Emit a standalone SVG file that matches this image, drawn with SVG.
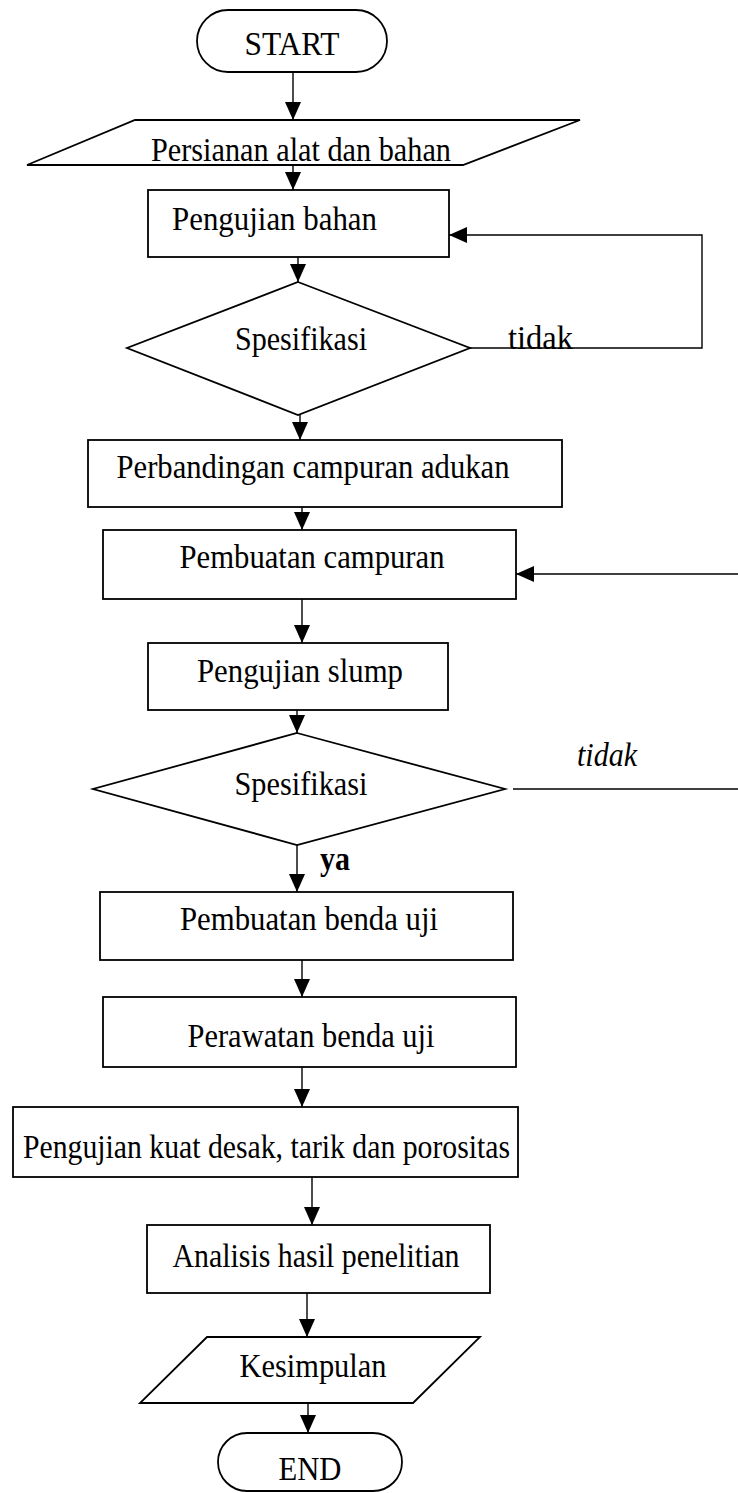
<svg xmlns="http://www.w3.org/2000/svg" width="738" height="1493" viewBox="0 0 738 1493">
<style>
.s{fill:#fff;stroke:#000;stroke-width:1.8}
.c{fill:none;stroke:#000;stroke-width:1.4}
.t{font-family:"Liberation Serif","Times New Roman",serif;font-size:33px;fill:#000}
.m{text-anchor:middle}
</style>
<defs>
<marker id="ah" markerUnits="userSpaceOnUse" markerWidth="20" markerHeight="18" refX="18" refY="8" orient="auto">
<path d="M0,0 L18,8 L0,16 z" fill="#000"/>
</marker>
</defs>
<rect width="738" height="1493" fill="#fff"/>
<g id="connectors">
<line class="c" x1="293" y1="72" x2="293" y2="120" marker-end="url(#ah)"/>
<line class="c" x1="293" y1="165" x2="293" y2="190" marker-end="url(#ah)"/>
<line class="c" x1="298" y1="257" x2="298" y2="282" marker-end="url(#ah)"/>
<path class="c" d="M470,348 H702 V235 H449" marker-end="url(#ah)"/>
<line class="c" x1="300" y1="415" x2="300" y2="440" marker-end="url(#ah)"/>
<line class="c" x1="302" y1="507" x2="302" y2="530" marker-end="url(#ah)"/>
<line class="c" x1="738" y1="574" x2="516" y2="574" marker-end="url(#ah)"/>
<line class="c" x1="302" y1="599" x2="302" y2="643" marker-end="url(#ah)"/>
<line class="c" x1="297" y1="710" x2="297" y2="733" marker-end="url(#ah)"/>
<line class="c" x1="513" y1="789" x2="738" y2="789"/>
<line class="c" x1="297" y1="845" x2="297" y2="892" marker-end="url(#ah)"/>
<line class="c" x1="302" y1="960" x2="302" y2="997" marker-end="url(#ah)"/>
<line class="c" x1="302" y1="1067" x2="302" y2="1107" marker-end="url(#ah)"/>
<line class="c" x1="312" y1="1177" x2="312" y2="1225" marker-end="url(#ah)"/>
<line class="c" x1="307" y1="1293" x2="307" y2="1337" marker-end="url(#ah)"/>
<line class="c" x1="308" y1="1403" x2="308" y2="1433" marker-end="url(#ah)"/>
<text class="t" x="508" y="349" textLength="65" lengthAdjust="spacingAndGlyphs">tidak</text>
<text class="t" x="577" y="766" font-style="italic" textLength="60" lengthAdjust="spacingAndGlyphs">tidak</text>
<text class="t" x="320" y="870" font-weight="bold" font-size="31" textLength="30" lengthAdjust="spacingAndGlyphs">ya</text>
</g>
<g id="start">
<rect class="s" x="197" y="10" width="190" height="62" rx="31"/>
<text class="t m" x="292" y="55" textLength="95" lengthAdjust="spacingAndGlyphs">START</text>
</g>
<g id="persiapan">
<polygon class="s" points="135,120 580,120 463,165 27,165"/>
<text class="t m" x="301" y="161" textLength="300" lengthAdjust="spacingAndGlyphs">Persianan alat dan bahan</text>
</g>
<g id="pengujian-bahan">
<rect class="s" x="148" y="190" width="301" height="67"/>
<text class="t" x="172" y="230" textLength="205" lengthAdjust="spacingAndGlyphs">Pengujian bahan</text>
</g>
<g id="spesifikasi1">
<polygon class="s" points="298,282 470,348 298,415 127,348"/>
<text class="t m" x="301" y="350" textLength="132" lengthAdjust="spacingAndGlyphs">Spesifikasi</text>
</g>
<g id="perbandingan">
<rect class="s" x="88" y="440" width="474" height="67"/>
<text class="t m" x="313" y="478" textLength="393" lengthAdjust="spacingAndGlyphs">Perbandingan campuran adukan</text>
</g>
<g id="pembuatan-campuran">
<rect class="s" x="103" y="530" width="413" height="69"/>
<text class="t m" x="312" y="568" textLength="265" lengthAdjust="spacingAndGlyphs">Pembuatan campuran</text>
</g>
<g id="pengujian-slump">
<rect class="s" x="148" y="643" width="300" height="67"/>
<text class="t m" x="300" y="682" textLength="206" lengthAdjust="spacingAndGlyphs">Pengujian slump</text>
</g>
<g id="spesifikasi2">
<polygon class="s" points="297,733 505,789 297,845 93,789"/>
<text class="t m" x="301" y="795" textLength="133" lengthAdjust="spacingAndGlyphs">Spesifikasi</text>
</g>
<g id="pembuatan-benda-uji">
<rect class="s" x="100" y="892" width="413" height="68"/>
<text class="t m" x="309" y="930" textLength="258" lengthAdjust="spacingAndGlyphs">Pembuatan benda uji</text>
</g>
<g id="perawatan">
<rect class="s" x="103" y="997" width="413" height="70"/>
<text class="t m" x="311" y="1047" textLength="247" lengthAdjust="spacingAndGlyphs">Perawatan benda uji</text>
</g>
<g id="pengujian-kuat">
<rect class="s" x="13" y="1107" width="505" height="70"/>
<text class="t" x="23" y="1158" textLength="487" lengthAdjust="spacingAndGlyphs">Pengujian kuat desak, tarik dan porositas</text>
</g>
<g id="analisis">
<rect class="s" x="147" y="1225" width="343" height="68"/>
<text class="t m" x="316" y="1267" textLength="287" lengthAdjust="spacingAndGlyphs">Analisis hasil penelitian</text>
</g>
<g id="kesimpulan">
<polygon class="s" points="207,1337 480,1337 413,1403 140,1403"/>
<text class="t m" x="313" y="1377" textLength="147" lengthAdjust="spacingAndGlyphs">Kesimpulan</text>
</g>
<g id="end">
<rect class="s" x="218" y="1433" width="184" height="58" rx="29"/>
<text class="t m" x="310" y="1480" textLength="63" lengthAdjust="spacingAndGlyphs">END</text>
</g>
</svg>
